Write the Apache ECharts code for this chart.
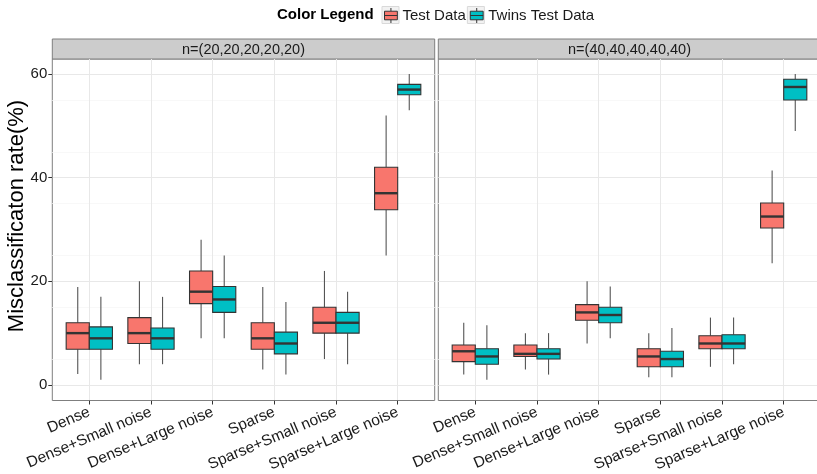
<!DOCTYPE html>
<html>
<head>
<meta charset="utf-8">
<script src="https://cdn.jsdelivr.net/npm/echarts@6/dist/echarts.min.js"></script>
<style>
  html, body { margin: 0; padding: 0; background: #ffffff; }
  #chart { width: 817px; height: 474px; }
</style>
</head>
<body>
<div id="chart"></div>
<script>
// Scenario names along the x axis of both facets
const categories = ['Dense', 'Dense+Small noise', 'Dense+Large noise', 'Sparse', 'Sparse+Small noise', 'Sparse+Large noise'];
const panelTitles = ['n=(20,20,20,20,20)', 'n=(40,40,40,40,40)'];
const seriesNames = ['Test Data', 'Twins Test Data'];
const yTicks = [0, 20, 40, 60];

// Box statistics per scenario: [lower whisker, Q1, median, Q3, upper whisker]
const test20 = [
  [2.1, 6.9, 10.0, 12.0, 18.9],
  [4.0, 8.0, 10.0, 13.0, 20.0],
  [9.0, 15.7, 18.0, 22.0, 28.0],
  [3.0, 6.9, 9.0, 12.0, 18.9],
  [5.0, 10.0, 12.0, 15.0, 22.0],
  [25.0, 33.8, 37.0, 42.0, 52.0]
];
const twins20 = [
  [1.0, 6.9, 9.0, 11.2, 17.0],
  [4.0, 6.9, 9.0, 11.0, 17.0],
  [9.0, 14.0, 16.5, 19.0, 25.0],
  [2.0, 6.0, 8.0, 10.2, 16.0],
  [4.0, 10.0, 12.0, 14.0, 18.0],
  [53.0, 56.0, 57.0, 58.0, 60.0]
];
const test40 = [
  [2.0, 4.5, 6.5, 7.7, 12.0],
  [3.0, 5.5, 6.0, 7.7, 10.0],
  [8.0, 12.5, 14.0, 15.5, 20.0],
  [1.5, 3.5, 5.5, 7.0, 10.0],
  [3.5, 7.0, 8.0, 9.5, 13.0],
  [23.5, 30.3, 32.5, 35.1, 41.4]
];
const twins40 = [
  [1.0, 4.0, 5.5, 7.0, 11.5],
  [2.0, 5.0, 6.0, 7.0, 10.0],
  [9.0, 12.0, 13.5, 15.0, 19.0],
  [1.5, 3.5, 5.0, 6.5, 11.0],
  [4.0, 7.0, 8.0, 9.7, 13.0],
  [49.0, 55.0, 57.5, 59.0, 60.0]
];

const panelData = [[test20, twins20], [test40, twins40]];

const FONT = "'Liberation Sans', Arial, Helvetica, sans-serif";
const COLORS = ['#F8766D', '#00BFC4'];
const TEXT = '#1a1a1a';
const PANEL = { top: 59, height: 341.5, width: 382.4, lefts: [52.3, 438.3], stripH: 20 };
const X_MIN = -0.6, X_MAX = categories.length - 0.4;
const Y_MIN = -3, Y_MAX = 62.9;
const DODGE = 0.75;
const catIdx = categories.map((_, i) => i);

// Dodged box glyph: slot 0 sits left of the category centre, slot 1 right of it
function boxRenderer(slot) {
  return function (params, api) {
    const i = api.value(0);
    const unit = api.size([1, 0])[0];
    const w = unit * DODGE / 2;
    const cx = api.coord([i, 0])[0] + (slot === 0 ? -w / 2 : w / 2);
    const y = k => api.coord([i, api.value(k)])[1];
    const yMin = y(1), yQ1 = y(2), yMed = y(3), yQ3 = y(4), yMax = y(5);
    const whisker = { stroke: '#555555', lineWidth: 1.1 };
    return {
      type: 'group',
      children: [
        { type: 'line', shape: { x1: cx, y1: yMax, x2: cx, y2: yQ3 }, style: whisker },
        { type: 'line', shape: { x1: cx, y1: yQ1, x2: cx, y2: yMin }, style: whisker },
        { type: 'rect', shape: { x: cx - w / 2, y: yQ3, width: w, height: yQ1 - yQ3 },
          style: { fill: api.visual('color'), stroke: '#333333', lineWidth: 1.1 } },
        { type: 'line', shape: { x1: cx - w / 2, y1: yMed, x2: cx + w / 2, y2: yMed },
          style: { stroke: '#333333', lineWidth: 2.4 } }
      ]
    };
  };
}

const grids = [], xAxes = [], yAxes = [], series = [], graphics = [];

PANEL.lefts.forEach((left, p) => {
  grids.push({
    left: left, top: PANEL.top, width: PANEL.width, height: PANEL.height,
    outerBoundsMode: 'none', containLabel: false,
    show: true, backgroundColor: '#ffffff', borderColor: '#7f7f7f', borderWidth: 1
  });
  xAxes.push({
    type: 'value', gridIndex: p, min: X_MIN, max: X_MAX,
    axisLine: { show: false, onZero: false },
    axisTick: { show: true, length: 4, customValues: catIdx, lineStyle: { color: '#333333' } },
    axisLabel: {
      customValues: catIdx, formatter: v => categories[Math.round(v)],
      rotate: 23, fontSize: 15.5, color: TEXT, fontFamily: FONT, margin: 11
    },
    splitLine: { show: true, lineStyle: { color: '#e8e8e8', width: 1 } }
  });
  yAxes.push({
    type: 'value', gridIndex: p, min: Y_MIN, max: Y_MAX, splitNumber: 7,
    axisLine: { show: false, onZero: false },
    axisTick: { show: p === 0, length: 4, customValues: yTicks, lineStyle: { color: '#333333' } },
    axisLabel: { show: p === 0, customValues: yTicks, fontSize: 15, color: TEXT, fontFamily: FONT, margin: 5 },
    splitLine: { show: true, lineStyle: { color: '#e8e8e8', width: 1 } },
    minorTick: { show: false, splitNumber: 2 },
    minorSplitLine: { show: true, lineStyle: { color: '#f8f8f8', width: 1 } }
  });
  panelData[p].forEach((rows, s) => {
    series.push({
      type: 'custom', name: seriesNames[s], xAxisIndex: p, yAxisIndex: p,
      renderItem: boxRenderer(s),
      itemStyle: { color: COLORS[s] },
      encode: { x: 0, y: [1, 2, 3, 4, 5] },
      data: rows.map((r, i) => [i].concat(r)),
      z: 3
    });
  });
  // facet strip
  graphics.push({
    type: 'rect', shape: { x: left, y: PANEL.top - PANEL.stripH, width: PANEL.width, height: PANEL.stripH },
    style: { fill: '#cccccc', stroke: '#7f7f7f', lineWidth: 1 }
  });
  graphics.push({
    type: 'text', x: left + PANEL.width / 2, y: PANEL.top - PANEL.stripH / 2 + 0.5,
    style: { text: panelTitles[p], align: 'center', verticalAlign: 'middle', textAlign: 'center', textVerticalAlign: 'middle',
             font: '14.5px ' + FONT, fill: TEXT }
  });
});

// y axis title
graphics.push({
  type: 'text', x: 17, y: 216, rotation: Math.PI / 2,
  style: { text: 'Misclassificaton rate(%)', align: 'center', verticalAlign: 'middle', textAlign: 'center', textVerticalAlign: 'middle',
           font: '22px ' + FONT, fill: '#000000' }
});

// legend title and key backgrounds
const LEG = { left: 384, top: 7.5, iconW: 13, iconH: 15, gap: 4, font: 15 };
graphics.push({
  type: 'text', x: 277, y: LEG.top + LEG.iconH / 2,
  style: { text: 'Color Legend', align: 'left', verticalAlign: 'middle', textAlign: 'left', textVerticalAlign: 'middle',
           font: 'bold 15px ' + FONT, fill: '#000000' }
});
const measure = document.createElement('canvas').getContext('2d');
measure.font = LEG.font + 'px ' + FONT;
let keyX = LEG.left;
seriesNames.forEach(name => {
  graphics.push({
    type: 'rect', shape: { x: keyX - 2, y: LEG.top - 1, width: LEG.iconW + 4, height: LEG.iconH + 2 },
    style: { fill: '#f2f2f2', stroke: '#d9d9d9', lineWidth: 1 }
  });
  keyX += LEG.iconW + 5 + measure.measureText(name).width + LEG.gap;
});

const boxIcon = 'path://M6,0 L6,3 M0,3 L12,3 L12,11 L0,11 Z M0,7 L12,7 M6,11 L6,14';

const option = {
  animation: false,
  backgroundColor: '#ffffff',
  textStyle: { fontFamily: FONT },
  legend: {
    left: LEG.left, top: LEG.top, padding: 0, itemWidth: LEG.iconW, itemHeight: LEG.iconH, itemGap: LEG.gap,
    selectedMode: false,
    textStyle: { fontSize: LEG.font, color: TEXT, fontFamily: FONT },
    data: seriesNames.map((name, s) => ({
      name: name, icon: boxIcon,
      itemStyle: { color: COLORS[s], borderColor: '#333333', borderWidth: 1 }
    }))
  },
  grid: grids,
  xAxis: xAxes,
  yAxis: yAxes,
  series: series,
  graphic: { elements: graphics }
};

const chart = echarts.init(document.getElementById('chart'), null, { renderer: 'canvas' });
chart.setOption(option);
</script>
</body>
</html>
